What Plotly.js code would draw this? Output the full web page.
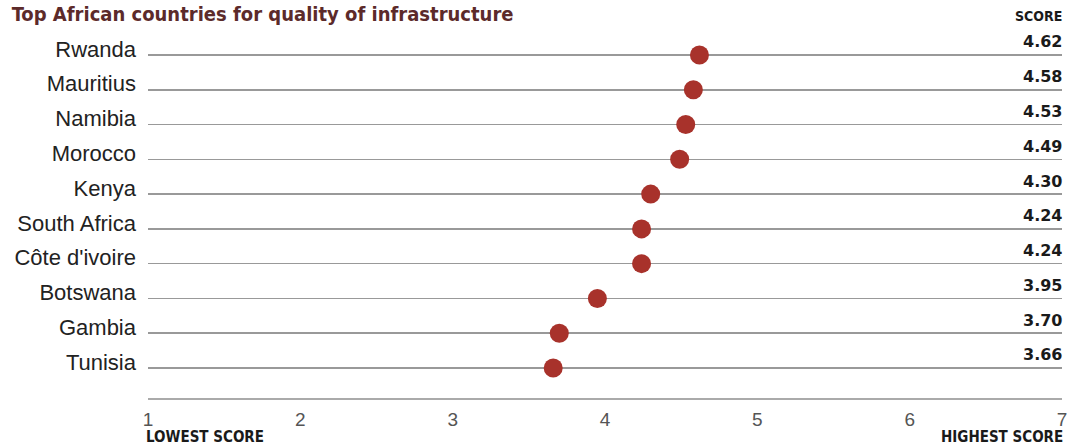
<!DOCTYPE html>
<html>
<head>
<meta charset="utf-8">
<script src="https://cdn.plot.ly/plotly-3.0.1.min.js"></script>
<style>html,body{margin:0;padding:0;background:#fff;}#chart{width:1067px;height:447px;}</style>
</head>
<body>
<div id="chart"></div>
<script>
const countries = ['Rwanda','Mauritius','Namibia','Morocco','Kenya','South Africa',"Côte d'ivoire",'Botswana','Gambia','Tunisia'];
const scores = [4.62,4.58,4.53,4.49,4.30,4.24,4.24,3.95,3.70,3.66];
const xTicks = [1,2,3,4,5,6,7];
const titleText = 'Top African countries for quality of infrastructure';

const COND = 'DejaVu Sans Condensed, DejaVu Sans, sans-serif';

const trace = {
  type: 'scatter', mode: 'markers',
  x: scores, y: countries,
  marker: {color: '#a8322b', size: 19},
  hoverinfo: 'x+y', cliponaxis: false
};

const annotations = countries.map((c, i) => ({
  x: 7, y: c, xref: 'x', yref: 'y', xanchor: 'right', yanchor: 'middle',
  xshift: 2, yshift: 13, showarrow: false, text: '<b>' + scores[i].toFixed(2) + '</b>',
  font: {family: 'DejaVu Sans, sans-serif', size: 16, color: '#1a1a1a'}
}));
annotations.push({x: 1, y: 1, xref: 'paper', yref: 'paper', xanchor: 'right', yanchor: 'middle',
  xshift: 2, yshift: 4, showarrow: false, text: '<b>SCORE</b>',
  font: {family: COND, size: 14, color: '#1a1a1a'}});
annotations.push({x: 0, y: 0, xref: 'paper', yref: 'paper', xanchor: 'left', yanchor: 'middle',
  xshift: -4, yshift: -39, showarrow: false, text: '<b>LOWEST SCORE</b>',
  font: {family: COND, size: 15, color: '#1a1a1a'}});
annotations.push({x: 1, y: 0, xref: 'paper', yref: 'paper', xanchor: 'right', yanchor: 'middle',
  xshift: 3, yshift: -39, showarrow: false, text: '<b>HIGHEST SCORE</b>',
  font: {family: COND, size: 15, color: '#1a1a1a'}});

const layout = {
  width: 1067, height: 447,
  margin: {l: 148, r: 5, t: 20, b: 49},
  paper_bgcolor: '#fff', plot_bgcolor: '#fff',
  showlegend: false,
  title: {text: '<b>' + titleText + '</b>', x: 0.011, xanchor: 'left', xref: 'container',
    y: 0.968, yref: 'container', yanchor: 'middle',
    font: {family: COND, size: 20, color: '#5c2a2a'}},
  xaxis: {range: [1, 7], tickvals: xTicks, ticktext: xTicks.map(String), showgrid: false, zeroline: false,
    showline: true, linecolor: '#aaa', linewidth: 1.5, ticks: '', ticklabelstandoff: 4,
    ticklabeloverflow: 'allow',
    tickfont: {family: 'Liberation Sans, sans-serif', size: 19, color: '#555'}},
  yaxis: {type: 'category', categoryarray: countries, range: [9.863, -1.006],
    showgrid: true, gridcolor: '#999', gridwidth: 1.5, zeroline: false, showline: false,
    ticks: '', ticklabelstandoff: 11, ticklabelshift: 6,
    tickfont: {family: 'Liberation Sans, sans-serif', size: 22, color: '#222'}},
  annotations: annotations
};

Plotly.newPlot('chart', [trace], layout, {displayModeBar: false, staticPlot: true});
</script>
</body>
</html>
